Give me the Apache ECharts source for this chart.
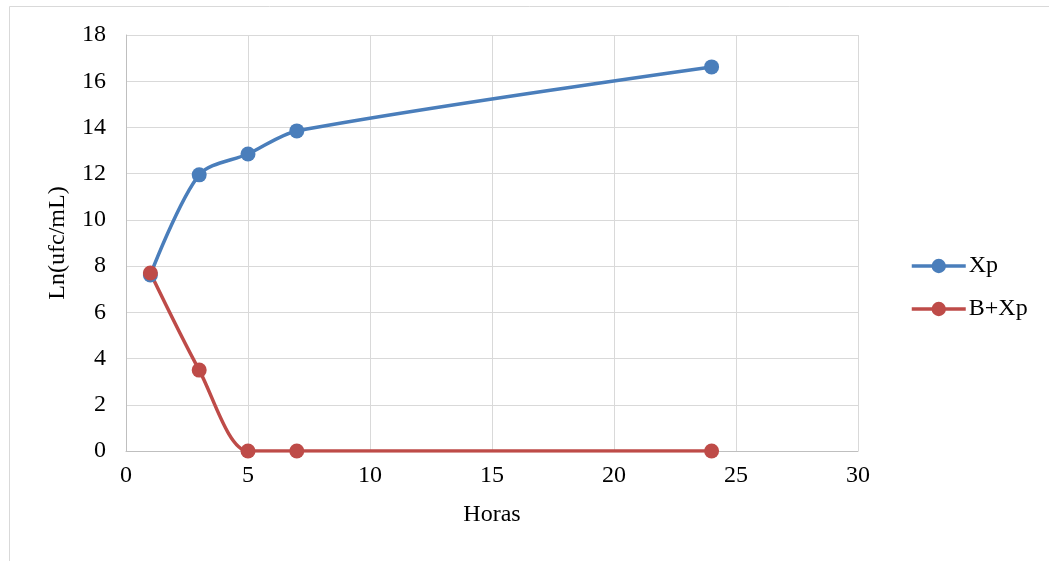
<!DOCTYPE html>
<html>
<head>
<meta charset="utf-8">
<script src="https://cdn.jsdelivr.net/npm/echarts@6/dist/echarts.min.js"></script>
<style>
  html, body { margin: 0; padding: 0; background: #fff; }
  #chart { width: 1049px; height: 561px; }
</style>
</head>
<body>
<div id="chart"></div>
<script>
// Sampling times (hours)
const horas = [1, 3, 5, 7, 24];
// Ln(ufc/mL) per treatment
const xp = [7.62, 11.95, 12.85, 13.85, 16.62];
const bxp = [7.7, 3.5, 0, 0, 0];

const seriesNames = ['Xp', 'B+Xp'];
const seriesColors = ['#4a7ebb', '#be4b48'];

const font = '"Liberation Serif", "Times New Roman", serif';

const pairs = (xs, ys) => xs.map((x, i) => [x, ys[i]]);

const makeSeries = (name, ys, color) => ({
  name: name,
  type: 'line',
  data: pairs(horas, ys),
  smooth: 0.3,
  symbol: 'circle',
  symbolSize: 15,
  itemStyle: { color: color },
  lineStyle: { color: color, width: 3.5 }
});

const chart = echarts.init(document.getElementById('chart'));
chart.setOption({
  animation: false,
  backgroundColor: '#fff',
  textStyle: { fontFamily: font, color: '#000' },
  graphic: [{
    type: 'rect',
    shape: { x: 9.5, y: 6.5, width: 1060, height: 570 },
    style: { fill: 'none', stroke: '#d9d9d9', lineWidth: 1 },
    silent: true
  }],
  grid: { left: 126, right: 191, top: 35, bottom: 110, containLabel: false },
  legend: {
    orient: 'vertical',
    left: 905,
    top: 249,
    itemWidth: 54,
    itemHeight: 18,
    itemGap: 19,
    lineStyle: { width: 3.5 },
    textStyle: { fontFamily: font, fontSize: 24, color: '#000', padding: [0, 0, 0, -2] },
    data: seriesNames
  },
  xAxis: {
    type: 'value',
    min: 0, max: 30, interval: 5,
    name: 'Horas',
    nameLocation: 'middle',
    nameGap: 52,
    nameTextStyle: { fontFamily: font, fontSize: 24, color: '#000' },
    axisLine: { show: true, lineStyle: { color: '#bfbfbf', width: 1 } },
    axisTick: { show: false },
    axisLabel: { fontFamily: font, fontSize: 24, color: '#000', margin: 13 },
    splitLine: { show: true, lineStyle: { color: '#d9d9d9', width: 1 } }
  },
  yAxis: {
    type: 'value',
    min: 0, max: 18, interval: 2,
    name: 'Ln(ufc/mL)',
    nameLocation: 'middle',
    nameGap: 56,
    nameRotate: 90,
    nameTextStyle: { fontFamily: font, fontSize: 24, color: '#000' },
    axisLine: { show: true, lineStyle: { color: '#bfbfbf', width: 1 } },
    axisTick: { show: false },
    axisLabel: { fontFamily: font, fontSize: 24, color: '#000', margin: 20 },
    splitLine: { show: true, lineStyle: { color: '#d9d9d9', width: 1 } }
  },
  series: [
    makeSeries(seriesNames[0], xp, seriesColors[0]),
    makeSeries(seriesNames[1], bxp, seriesColors[1])
  ]
});
</script>
</body>
</html>
